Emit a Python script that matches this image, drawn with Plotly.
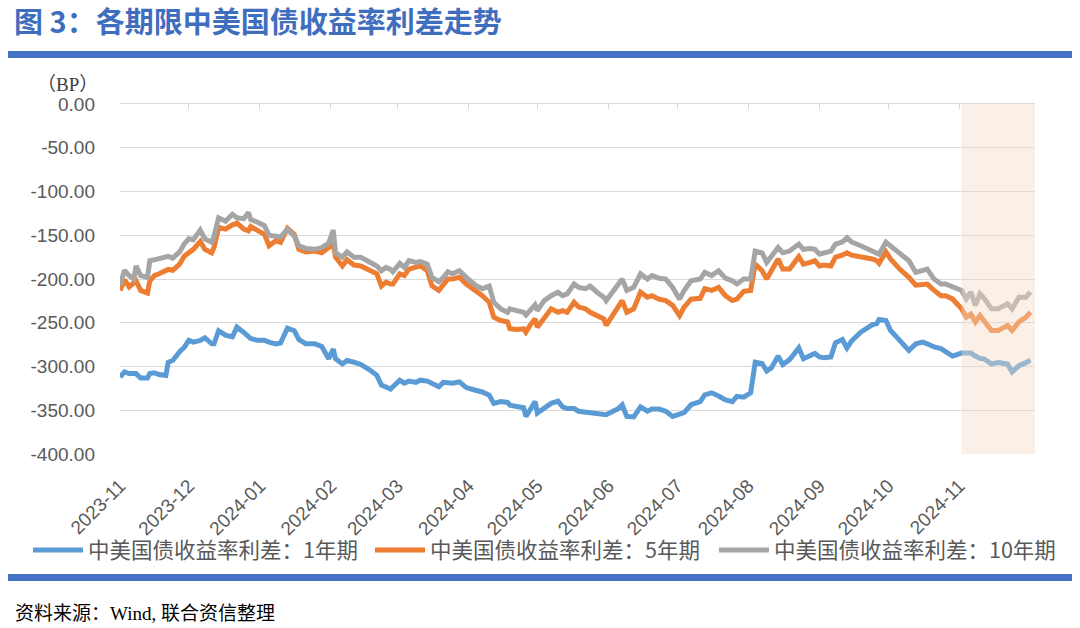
import pandas as pd
import plotly.graph_objects as go

# ---------------- data ----------------
start_date = "2023-11-01"
day_offsets = [
    0, 2, 4, 6, 7, 9, 12, 13, 15, 17, 20, 21, 23, 26, 28, 30, 32, 35, 37, 40,
    41, 43, 46, 49, 51, 54, 56, 57, 60, 63, 65, 68, 70, 73, 76, 78, 81, 85, 88, 91,
    93, 94, 97, 99, 102,
    105, 109, 112, 114, 116, 118, 119, 122, 124, 126, 129, 131, 134, 136, 139, 141,
    143, 145, 148, 151, 155, 158, 161, 163, 166, 169, 170, 173, 176, 177, 179, 181,
    182, 185, 188, 191, 193, 195, 198, 200, 203, 205,
    208, 211, 212, 215, 217, 219, 221, 224, 227, 230, 232, 235, 238, 241, 244, 246,
    249, 253, 255, 258, 261, 264, 267, 269, 272, 275, 277, 280, 282, 284, 287, 289,
    292, 296, 298, 301, 303, 305, 307,
    310, 312, 315, 317, 319, 323, 328, 330, 331, 334, 336, 340, 344, 347, 350, 352,
    355, 358, 360, 363, 367, 369, 371, 373, 375, 377, 380, 383, 387, 389, 392, 395, 397,
]

spread_10y = [
    -207, -190, -196, -200, -185, -196, -198, -179, -178, -177,
    -175, -174, -176, -169, -160, -154, -155, -144, -154, -158,
    -151, -130, -134, -126, -130, -131, -124, -132, -135, -139,
    -150, -151, -152, -143, -151, -162, -165, -166, -164, -159,
    -144, -170, -175, -169, -175,
    -175, -181, -185, -190.5, -186.7, -189, -191.7, -182, -186.7, -179,
    -181, -180, -183, -198, -203, -198, -191.7, -194, -190.5, -198,
    -207, -211, -208, -226.5, -234, -238, -234, -236, -238, -241,
    -236, -229.5, -236, -224.6, -219, -215, -219, -217, -205.7, -209.5,
    -211, -208,
    -215, -220.8, -224.6, -213, -205.7, -200, -213, -209.5, -194, -200,
    -196, -199, -200, -209.5, -223, -213, -202, -200, -192.4, -196,
    -190.5, -199, -202, -205.7, -200, -200, -168, -170, -181, -173.5,
    -164, -170, -168, -160, -166, -165, -166, -171.6, -170,
    -168, -160, -157.6, -152.7, -157.6, -162, -168, -170, -171.6, -158,
    -162, -170, -179, -192.4, -190.5, -188.6, -200, -205.7, -205.7, -209.5,
    -213, -222.7, -215, -230, -217, -222.7, -234, -234, -228.4, -234,
    -220.8, -220.8, -215,
]

spread_5y = [
    -213, -201, -209, -205, -202, -213, -216, -202, -196, -194,
    -190, -189, -190, -183, -174, -170, -166, -157, -166, -170,
    -164, -141, -143, -138, -136, -143, -145, -140, -145, -149,
    -162, -156, -158, -142, -149, -166, -169, -168, -170, -164,
    -160, -175, -185, -178, -184,
    -185, -190.5, -194, -208, -203.5, -205.7, -205.7, -194, -196, -188.6,
    -186.7, -185, -190.5, -207.6, -213, -207, -200, -200, -198, -205.7,
    -213, -219, -226.5, -243.6, -247.4, -249, -256.8, -257.6, -256.8, -260.6,
    -252, -245.5, -255, -243.6, -234, -238, -236, -238, -226.5, -232,
    -234, -238,
    -241.7, -245.5, -253, -240, -232, -224.6, -238, -234, -215, -220.8,
    -219, -223, -224.6, -230, -241.7, -232, -223, -222, -211, -213,
    -209.5, -219, -224.6, -223, -214, -213, -183, -190.5, -200, -190.5,
    -177, -188.6, -188.6, -174.4, -183, -181, -179, -185, -184,
    -185, -175, -172.7, -170, -172.7, -174, -177, -179, -182, -169,
    -177, -188.6, -198, -207, -205.7, -205.7, -213, -219, -219, -222.7,
    -234, -243.6, -240, -249, -241.7, -249, -258.7, -258.7, -253, -258.7,
    -249, -243.6, -238,
]

spread_1y = [
    -312, -306, -308, -308, -308, -313, -313, -308, -307, -309,
    -310, -295, -293, -283, -278, -270, -272, -270, -267, -274,
    -274, -259, -264, -266, -255, -261, -265, -268, -270, -270,
    -272, -274, -273, -256, -259, -269, -274, -274, -277, -291,
    -280, -291, -297, -293, -295,
    -297.6, -304, -310, -321, -323, -325.6, -323, -315.5, -319, -316.6,
    -318, -315.5, -316.6, -319, -323, -318, -319, -319, -317.4, -324,
    -327, -329, -332.6, -342, -340, -341, -344, -346, -347, -357,
    -348, -340, -353, -347, -342, -339.5, -346, -348, -348, -351,
    -352, -353,
    -355, -356, -355, -351, -348.5, -343.6, -357, -357.6, -346, -351,
    -348.5, -348.5, -351, -357, -354, -352.6, -343.6, -340, -332.4, -330,
    -333.6, -338, -340, -334, -335, -330, -295, -296.4, -305, -301.5,
    -288, -297.6, -292, -278.6, -291, -288, -285, -289, -290,
    -289, -272.7, -269, -278.6, -270.8, -260.6, -252.3, -251, -246.2, -247.4,
    -258.7, -270, -281.6, -274, -272, -274, -277.6, -279.5, -283.4, -288,
    -284.6, -284.6, -284.6, -288, -290.7, -291.5, -297, -295.5, -297, -306,
    -299, -295.5, -292.6,
]

series_names = [
    "中美国债收益率利差：1年期",
    "中美国债收益率利差：5年期",
    "中美国债收益率利差：10年期",
]
series_colors = ["#5B9BD5", "#ED7D31", "#A5A5A5"]

x_tick_vals = [
    "2023-11-01", "2023-12-01", "2024-01-01", "2024-02-01", "2024-03-01",
    "2024-04-01", "2024-05-01", "2024-06-01", "2024-07-01", "2024-08-01",
    "2024-09-01", "2024-10-01", "2024-11-01",
]
x_tick_text = [
    "2023-11", "2023-12", "2024-01", "2024-02", "2024-03", "2024-04", "2024-05",
    "2024-06", "2024-07", "2024-08", "2024-09", "2024-10", "2024-11",
]
x_range = ["2023-11-01", "2024-12-04"]
highlight_range = ["2024-11-02", "2024-12-04"]

y_tick_vals = [0, -50, -100, -150, -200, -250, -300, -350, -400]
y_tick_text = ["0.00", "-50.00", "-100.00", "-150.00", "-200.00",
               "-250.00", "-300.00", "-350.00", "-400.00"]
y_range = [-401, 0]

title_text = "图 3：各期限中美国债收益率利差走势"
unit_text = "（BP）"
source_text = "资料来源：Wind, 联合资信整理"

# ---------------- layout helpers ----------------
W, H = 1080, 628
ML, MR, MT, MB = 120, 45, 104, 173
PW = W - ML - MR
PH = H - MT - MB


def px_x(x):
    return (x - ML) / PW


def px_y(y):
    return (H - MB - y) / PH


dates = pd.Timestamp(start_date) + pd.to_timedelta(day_offsets, unit="D")

GRID = "#D9D9D9"
TXT = "#595959"
BLUE_BAR = "#4472C4"
CJK = "Noto Sans CJK SC"

legend_ids = ["legend", "legend2", "legend3"]
legend_left_px = [28, 370, 714]

fig = go.Figure()
for name, vals, color, lg in zip(series_names, [spread_1y, spread_5y, spread_10y],
                                 series_colors, legend_ids):
    fig.add_trace(go.Scatter(
        x=dates, y=vals, mode="lines", name=name, legend=lg,
        line=dict(color=color, width=5),
        hoverinfo="skip",
    ))

# empty trace so the top (zero) axis with its tick marks is drawn
fig.add_trace(go.Scatter(x=[], y=[], xaxis="x2", yaxis="y", showlegend=False, hoverinfo="skip"))

legend_common = dict(
    orientation="h", xref="container", yref="container",
    y=1 - 550 / H, xanchor="left", yanchor="middle",
    font=dict(family=CJK, size=21.5, color=TXT),
    itemwidth=50, bgcolor="rgba(0,0,0,0)",
)

fig.update_layout(
    width=W, height=H,
    margin=dict(l=ML, r=MR, t=MT, b=MB, autoexpand=False),
    paper_bgcolor="white", plot_bgcolor="white",
    font=dict(family="Liberation Sans, Arial, " + CJK, color=TXT),
    showlegend=True,
    title=dict(
        text="<b>" + title_text + "</b>",
        xref="container", yref="container",
        x=14 / W, y=1 - 23 / H, xanchor="left", yanchor="middle",
        font=dict(family=CJK, size=29, color="#3F6EBF"),
    ),
    xaxis=dict(
        type="date", range=x_range, automargin=False,
        tickmode="array", tickvals=x_tick_vals, ticktext=x_tick_text,
        tickangle=-45, showgrid=False, zeroline=False, showline=False,
        ticks="", ticklabelstandoff=15,
        tickfont=dict(family="Liberation Sans, Arial", size=19, color=TXT),
    ),
    xaxis2=dict(
        type="date", range=x_range, overlaying="x", side="top", anchor="y",
        automargin=False,
        tickmode="array", tickvals=x_tick_vals + ["2024-12-04"],
        showticklabels=False, ticks="inside", ticklen=5, tickcolor=GRID, tickwidth=1,
        showline=True, linecolor=GRID, linewidth=1, showgrid=False, zeroline=False,
    ),
    yaxis=dict(
        range=y_range, automargin=False,
        tickmode="array", tickvals=y_tick_vals, ticktext=y_tick_text,
        showgrid=True, gridcolor=GRID, gridwidth=1, zeroline=False, showline=False,
        ticks="", ticklabelstandoff=24,
        tickfont=dict(family="Liberation Sans, Arial", size=19, color=TXT),
    ),
    legend=dict(legend_common, x=legend_left_px[0] / W),
    legend2=dict(legend_common, x=legend_left_px[1] / W),
    legend3=dict(legend_common, x=legend_left_px[2] / W),
)

shapes = [
    # highlighted (shaded) recent period
    dict(type="rect", xref="x", yref="y",
         x0=highlight_range[0], x1=highlight_range[1], y0=-400, y1=0,
         fillcolor="rgba(245,219,200,0.42)", line=dict(width=0), layer="above"),
    # top and bottom blue rules
    dict(type="rect", xref="paper", yref="paper",
         x0=px_x(8), x1=px_x(1072), y0=px_y(58), y1=px_y(51),
         fillcolor=BLUE_BAR, line=dict(width=0)),
    dict(type="rect", xref="paper", yref="paper",
         x0=px_x(8), x1=px_x(1072), y0=px_y(581), y1=px_y(574),
         fillcolor=BLUE_BAR, line=dict(width=0)),
]
fig.update_layout(shapes=shapes)

fig.add_annotation(
    text=unit_text, xref="paper", yref="paper", x=px_x(67), y=px_y(84),
    xanchor="center", yanchor="middle", showarrow=False,
    font=dict(family="Liberation Serif, " + CJK, size=19, color="#404040"),
)
fig.add_annotation(
    text=source_text, xref="paper", yref="paper", x=px_x(13), y=px_y(613),
    xanchor="left", yanchor="middle", showarrow=False,
    font=dict(family="Liberation Serif, " + CJK, size=19, color="#000000"),
)

fig.write_html("out.html")
